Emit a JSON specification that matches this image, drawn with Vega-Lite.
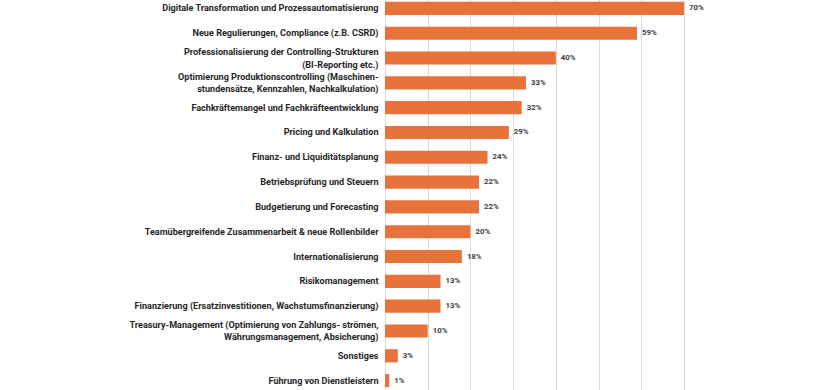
{
  "$schema": "https://vega.github.io/schema/vega-lite/v6.json",
  "autosize": "none",
  "width": 299,
  "height": 397,
  "padding": {"left": 385, "top": -4, "right": 136, "bottom": 0},
  "background": "white",
  "config": {"view": {"stroke": null}},
  "data": {
    "values": [
      {"thema": "Digitale Transformation und Prozessautomatisierung", "anteil": 0.70},
      {"thema": "Neue Regulierungen, Compliance (z.B. CSRD)", "anteil": 0.59},
      {"thema": "Professionalisierung der Controlling-Strukturen|(BI-Reporting etc.)", "anteil": 0.40},
      {"thema": "Optimierung Produktionscontrolling (Maschinen-|stundensätze, Kennzahlen, Nachkalkulation)", "anteil": 0.33},
      {"thema": "Fachkräftemangel und Fachkräfteentwicklung", "anteil": 0.32},
      {"thema": "Pricing und Kalkulation", "anteil": 0.29},
      {"thema": "Finanz- und Liquiditätsplanung", "anteil": 0.24},
      {"thema": "Betriebsprüfung und Steuern", "anteil": 0.22},
      {"thema": "Budgetierung und Forecasting", "anteil": 0.22},
      {"thema": "Teamübergreifende Zusammenarbeit & neue Rollenbilder", "anteil": 0.20},
      {"thema": "Internationalisierung", "anteil": 0.18},
      {"thema": "Risikomanagement", "anteil": 0.13},
      {"thema": "Finanzierung (Ersatzinvestitionen, Wachstumsfinanzierung)", "anteil": 0.13},
      {"thema": "Treasury-Management (Optimierung von Zahlungs- strömen,|Währungsmanagement, Absicherung)", "anteil": 0.10},
      {"thema": "Sonstiges", "anteil": 0.03},
      {"thema": "Führung von Dienstleistern", "anteil": 0.01}
    ]
  },
  "encoding": {
    "y": {
      "field": "thema",
      "type": "nominal",
      "sort": null,
      "title": null,
      "scale": {"paddingInner": 0.47, "paddingOuter": 0.235},
      "axis": {
        "domain": false,
        "ticks": false,
        "labelPadding": 7,
        "labelLimit": 0,
        "labelFont": "Roboto",
        "labelFontWeight": "bold",
        "labelFontSize": 9.1,
        "labelColor": "#262626",
        "labelLineHeight": 12.5,
        "labelOffset": {"condition": {"test": "indexof(datum.value, '|') >= 0", "value": -6}, "value": 0},
        "labelExpr": "split(datum.label, '|')"
      }
    },
    "x": {
      "field": "anteil",
      "type": "quantitative",
      "title": null,
      "scale": {"domain": [0, 0.7], "nice": false},
      "axis": {
        "values": [0, 0.1, 0.2, 0.3, 0.4, 0.5, 0.6, 0.7],
        "labels": false,
        "ticks": false,
        "domain": false,
        "grid": true,
        "gridColor": "#d9d9d9",
        "gridWidth": 1
      }
    }
  },
  "layer": [
    {"mark": {"type": "bar", "color": "#E8733A"}},
    {
      "mark": {"type": "text", "align": "left", "baseline": "middle", "dx": 5, "font": "Roboto", "fontWeight": "bold", "fontSize": 7.8, "color": "#404040"},
      "encoding": {"text": {"field": "anteil", "type": "quantitative", "format": ".0%"}}
    }
  ]
}
